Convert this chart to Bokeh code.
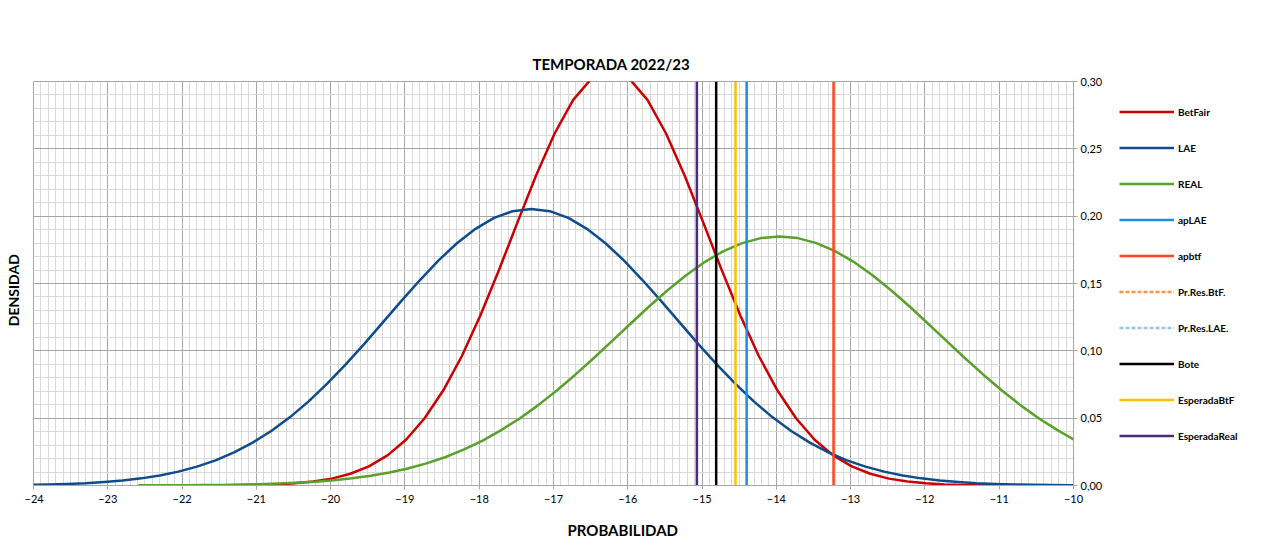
import math
from bokeh.plotting import figure
from bokeh.layouts import row
from bokeh.models import (Range1d, SingleIntervalTicker, FixedTicker, CustomJSTickFormatter,
                          Legend, LegendItem, Title, Label)
from bokeh.embed import file_html
from bokeh.resources import INLINE

# ---------------- data ----------------
TITLE = "TEMPORADA 2022/23"
X_LABEL = "PROBABILIDAD"
Y_LABEL = "DENSIDAD"
X_MIN, X_MAX = -24, -10
Y_MIN, Y_MAX = 0.0, 0.30
Y_TICKS = [0.0, 0.05, 0.10, 0.15, 0.20, 0.25, 0.30]

betfair_x = [-21.41, -21.235, -20.985, -20.735, -20.485, -20.235, -19.985, -19.735, -19.485,
             -19.235, -18.985, -18.735, -18.485, -18.235, -17.985, -17.735, -17.485, -17.235,
             -16.985, -16.735, -16.485, -16.235, -15.985, -15.735, -15.485, -15.235, -14.985,
             -14.735, -14.485, -14.235, -13.985, -13.735, -13.485, -13.235, -12.985, -12.735,
             -12.485, -12.235, -11.985, -11.735, -11.485, -11.235, -11.06]
betfair_y = [0.0001, 0.0002, 0.0004, 0.0008, 0.0016, 0.0029, 0.0051, 0.0087, 0.0142,
             0.0224, 0.0340, 0.0499, 0.0705, 0.0960, 0.1262, 0.1599, 0.1954, 0.2302,
             0.2614, 0.2864, 0.3024, 0.3080, 0.3024, 0.2864, 0.2614, 0.2302, 0.1954,
             0.1599, 0.1262, 0.0960, 0.0705, 0.0499, 0.0340, 0.0224, 0.0142, 0.0087,
             0.0051, 0.0029, 0.0016, 0.0008, 0.0004, 0.0002, 0.0001]

lae_x = [-24.0, -23.8, -23.55, -23.3, -23.05, -22.8, -22.55, -22.3, -22.05, -21.8, -21.55,
         -21.3, -21.05, -20.8, -20.55, -20.3, -20.05, -19.8, -19.55, -19.3, -19.05, -18.8,
         -18.55, -18.3, -18.05, -17.8, -17.55, -17.3, -17.05, -16.8, -16.55, -16.3, -16.05,
         -15.8, -15.55, -15.3, -15.05, -14.8, -14.55, -14.3, -14.05, -13.8, -13.55, -13.3,
         -13.05, -12.8, -12.55, -12.3, -12.05, -11.8, -11.55, -11.3, -11.05, -10.8, -10.55,
         -10.3, -10.05, -10.0]
lae_y = [0.0005, 0.0008, 0.0012, 0.0017, 0.0026, 0.0037, 0.0053, 0.0075, 0.0103, 0.0140, 0.0187,
         0.0246, 0.0318, 0.0405, 0.0506, 0.0623, 0.0754, 0.0897, 0.1050, 0.1209, 0.1369, 0.1524,
         0.1670, 0.1799, 0.1906, 0.1987, 0.2037, 0.2054, 0.2037, 0.1987, 0.1906, 0.1799, 0.1670,
         0.1524, 0.1369, 0.1209, 0.1050, 0.0897, 0.0754, 0.0623, 0.0506, 0.0405, 0.0318, 0.0246,
         0.0187, 0.0140, 0.0103, 0.0075, 0.0053, 0.0037, 0.0026, 0.0017, 0.0012, 0.0008, 0.0005,
         0.0003, 0.0002, 0.0002]

real_x = [-22.59, -22.46, -22.21, -21.96, -21.71, -21.46, -21.21, -20.96, -20.71, -20.46,
          -20.21, -19.96, -19.71, -19.46, -19.21, -18.96, -18.71, -18.46, -18.21, -17.96,
          -17.71, -17.46, -17.21, -16.96, -16.71, -16.46, -16.21, -15.96, -15.71, -15.46,
          -15.21, -14.96, -14.71, -14.46, -14.21, -13.96, -13.71, -13.46, -13.21, -12.96,
          -12.71, -12.46, -12.21, -11.96, -11.71, -11.46, -11.21, -10.96, -10.71, -10.46,
          -10.21, -10.0]
real_y = [0.0001, 0.0001, 0.0001, 0.0002, 0.0003, 0.0004, 0.0007, 0.0010, 0.0014, 0.0020,
          0.0028, 0.0039, 0.0053, 0.0072, 0.0096, 0.0126, 0.0164, 0.0210, 0.0266, 0.0332,
          0.0409, 0.0496, 0.0595, 0.0704, 0.0821, 0.0945, 0.1074, 0.1203, 0.1331, 0.1452,
          0.1563, 0.1661, 0.1741, 0.1800, 0.1837, 0.1849, 0.1837, 0.1800, 0.1741, 0.1661,
          0.1563, 0.1452, 0.1331, 0.1203, 0.1074, 0.0945, 0.0821, 0.0704, 0.0595, 0.0496,
          0.0409, 0.0343]

# vertical reference lines (x position); two legend-only series have no visible line
vline_names = ["apLAE", "apbtf", "Pr.Res.BtF.", "Pr.Res.LAE.", "Bote", "EsperadaBtF", "EsperadaReal"]
vline_x = [-14.40, -13.23, None, None, -14.81, -14.55, -15.07]

curve_names = ["BetFair", "LAE", "REAL"]
curve_colors = ["#CC0000", "#0F4C8C", "#5AA02C"]
vline_colors = ["#1A8FE0", "#FF4422", "#F79646", "#9DC3E6", "#000000", "#FFC000", "#4E2A7E"]
vline_dash = ["solid", "solid", "4 2", "4 2", "solid", "solid", "solid"]

FONT = "Lato"
NAN = float("nan")

# ---------------- y-axis title strip (left) ----------------
yl = figure(frame_width=24, frame_height=404, output_backend="svg", toolbar_location=None,
            x_range=Range1d(0, 24), y_range=Range1d(Y_MIN, Y_MAX),
            min_border_left=0, min_border_top=81, min_border_right=0, min_border_bottom=0,
            background_fill_color="white", border_fill_color="white")
yl.axis.visible = False
yl.grid.visible = False
yl.outline_line_color = None
yl.add_layout(Label(x=13.3, y=0.145, text=Y_LABEL, angle=math.pi / 2, text_font=FONT,
                    text_font_size="14px", text_font_style="bold", text_color="#000000",
                    text_align="center", text_baseline="middle"))

# ---------------- main figure ----------------
p = figure(frame_width=1040, frame_height=404, output_backend="svg", toolbar_location=None,
           x_range=Range1d(X_MIN, X_MAX), y_range=Range1d(Y_MIN, Y_MAX),
           y_axis_location="right", min_border_left=9, min_border_top=81,
           min_border_right=0, min_border_bottom=60,
           background_fill_color="white", border_fill_color="white")

p.title.text = TITLE
p.title.text_font = FONT
p.title.text_font_size = "15px"
p.title.text_font_style = "bold"
p.title.text_color = "#000000"
p.title.align = "left"
p.title.offset = 499
p.title.standoff = 18

p.outline_line_color = "#a6a6a6"

minor_y = [i / 100 for i in range(0, 31)]
p.xaxis.ticker = SingleIntervalTicker(interval=1, num_minor_ticks=10)
p.yaxis.ticker = FixedTicker(ticks=Y_TICKS, minor_ticks=minor_y)
p.yaxis.formatter = CustomJSTickFormatter(code="return tick.toFixed(2).replace('.', ',');")
for ax in (p.xaxis, p.yaxis):
    ax.axis_line_color = "#a6a6a6"
    ax.major_tick_line_color = "#a6a6a6"
    ax.major_tick_out = 4
    ax.major_tick_in = 0
    ax.minor_tick_line_color = None
    ax.major_label_text_font = FONT
    ax.major_label_text_font_size = "11px"
    ax.major_label_text_color = "#000000"
    ax.major_label_standoff = 5
p.yaxis.major_label_standoff = 3

for g in (p.xgrid, p.ygrid):
    g.grid_line_color = "#a6a6a6"
    g.grid_line_width = 1
    g.minor_grid_line_color = "#d9d9d9"
    g.minor_grid_line_width = 1

curves = [(betfair_x, betfair_y), (lae_x, lae_y), (real_x, real_y)]
for (xs, ys), name, col in zip(curves, curve_names, curve_colors):
    p.line(xs, ys, line_color=col, line_width=2.5, line_join="round")

for name, xv, col, dash in zip(vline_names, vline_x, vline_colors, vline_dash):
    if xv is not None:
        p.line([xv, xv], [Y_MIN, Y_MAX], line_color=col, line_width=2.5, line_dash=dash)

p.add_layout(Title(text=X_LABEL, text_font=FONT, text_font_size="15px", text_font_style="bold",
                   text_color="#000000", align="left", offset=534, standoff=31,
                   vertical_align="top"), "below")

# ---------------- legend panel (separate figure to the right) ----------------
# the series are re-drawn here only to feed the legend; this figure's ranges keep them out of view
lg = figure(width=170, height=545, output_backend="svg", toolbar_location=None,
            x_range=Range1d(100, 101), y_range=Range1d(100, 101),
            min_border_left=0, min_border_top=81, min_border_right=0, min_border_bottom=60,
            background_fill_color="white", border_fill_color="white")
lg.axis.visible = False
lg.grid.visible = False
lg.outline_line_color = None

items = []
for (xs, ys), name, col in zip(curves, curve_names, curve_colors):
    r = lg.line(xs, ys, line_color=col, line_width=2.5)
    items.append(LegendItem(label=name, renderers=[r]))
for name, xv, col, dash in zip(vline_names, vline_x, vline_colors, vline_dash):
    if xv is None:
        xs, ys = [NAN, NAN], [NAN, NAN]
    else:
        xs, ys = [xv, xv], [Y_MIN, Y_MAX]
    r = lg.line(xs, ys, line_color=col, line_width=2.5, line_dash=dash)
    items.append(LegendItem(label=name, renderers=[r]))

legend = Legend(items=items, location="top_left", padding=0, margin=14,
                glyph_width=55, glyph_height=33, label_height=33, label_standoff=4,
                spacing=3, border_line_color=None, background_fill_alpha=0,
                label_text_font=FONT, label_text_font_style="bold",
                label_text_font_size="10px", label_text_color="#000000")
lg.add_layout(legend, "center")

layout = row(yl, p, lg, spacing=0)
open("out.html", "w").write(file_html(layout, INLINE))
